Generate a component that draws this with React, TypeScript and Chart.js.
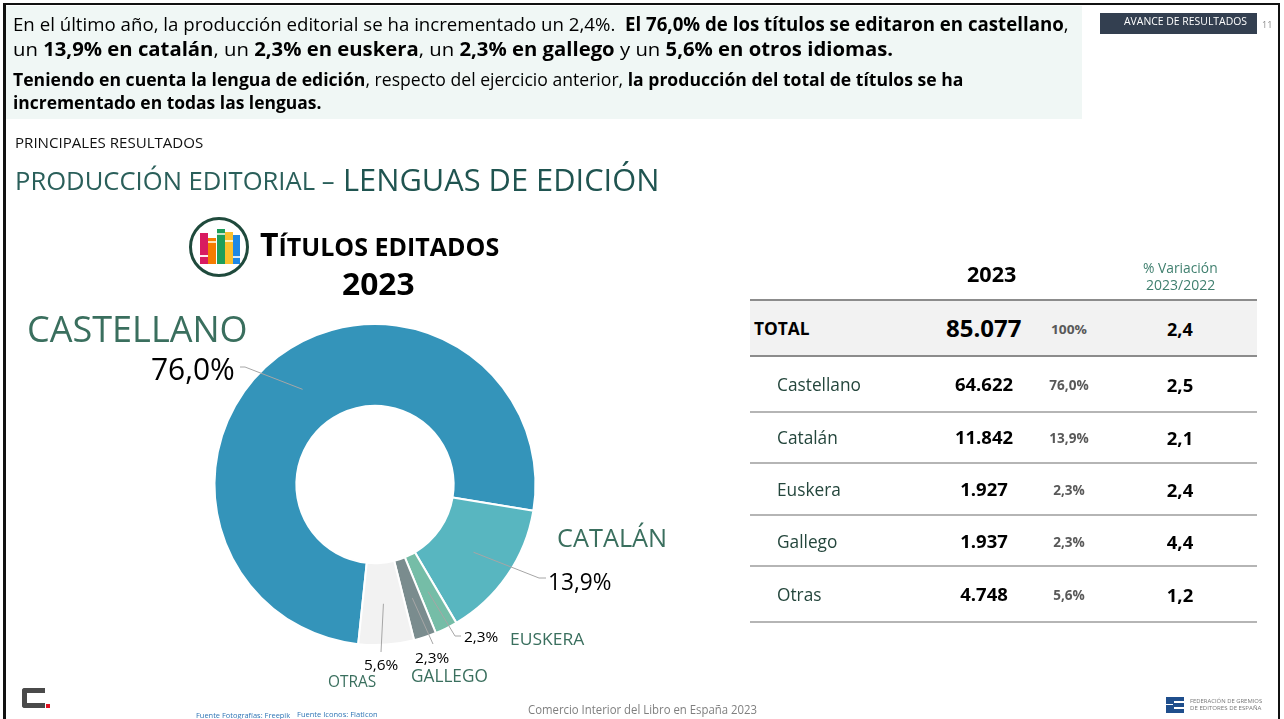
import React, { useEffect, useLayoutEffect, useRef } from "react";
import { Chart, registerables } from "chart.js";

Chart.register(...registerables);

const languages = ["Castellano", "Catalán", "Euskera", "Gallego", "Otras"];
const titles = [64622, 11842, 1927, 1937, 4748];
const shares = ["76,0%", "13,9%", "2,3%", "2,3%", "5,6%"];
const variation = ["2,5", "2,1", "2,4", "4,4", "1,2"];
const titleLabels = ["64.622", "11.842", "1.927", "1.937", "4.748"];
const sliceColors = ["#3494BA", "#58B6C0", "#75BDA7", "#7A8C8E", "#F2F2F2"];
const totalLabel = "85.077";

const FONT = '"Open Sans", "Noto Sans", sans-serif';
const GREEN = "#3A6F5E";

// leader line bend points, by slice, in page pixels
const leaders: number[][][] = [
  [[245, 367], [240, 367]],
  [[539, 578], [546, 578]],
  [[455, 636], [461, 636]],
  [[433, 644]],
  [[381, 652]],
];

const leaderPlugin = {
  id: "leaders",
  afterDatasetsDraw(chart: any) {
    const arcs = chart.getDatasetMeta(0).data;
    const ctx = chart.ctx;
    ctx.save();
    ctx.strokeStyle = "#A6A6A6";
    ctx.lineWidth = 1;
    arcs.forEach((arc: any, i: number) => {
      const p = arc.getCenterPoint();
      ctx.beginPath();
      ctx.moveTo(p.x, p.y);
      leaders[i].forEach(([x, y]) => ctx.lineTo(x, y));
      ctx.stroke();
    });
    ctx.restore();
  },
};

type TP = {
  x: number; y: number; w?: number; size: number; bold?: boolean; color?: string;
  center?: boolean; sx?: number; children: React.ReactNode;
};

function T({ x, y, w, size, bold, color = "#000", center, sx = 0.94, children }: TP) {
  const ref = useRef<HTMLDivElement>(null);
  useLayoutEffect(() => {
    const el = ref.current;
    if (el && w) {
      const k = w / el.offsetWidth;
      el.style.transform = `translateY(-50%) scaleX(${k})`;
    }
  }, [w]);
  return (
    <div
      ref={ref}
      style={{
        position: "absolute", left: x, top: y, whiteSpace: "nowrap", lineHeight: 1,
        fontFamily: FONT, fontSize: size, fontWeight: bold ? 700 : 400, color,
        transformOrigin: center ? "0 50%" : "left center",
        transform: center ? `scaleX(${sx}) translate(-50%, -50%)` : `translateY(-50%) scaleX(${sx})`,
      }}
    >
      {children}
    </div>
  );
}

function Box({ x, y, w, h, c, r }: { x: number; y: number; w: number; h: number; c: string; r?: number }) {
  return <div style={{ position: "absolute", left: x, top: y, width: w, height: h, background: c, borderRadius: r }} />;
}

const B = ({ children }: { children: React.ReactNode }) => <b>{children}</b>;

export default function App() {
  const canvasRef = useRef<HTMLCanvasElement>(null);
  useEffect(() => {
    const chart = new Chart(canvasRef.current as HTMLCanvasElement, {
      type: "doughnut",
      data: {
        labels: languages,
        datasets: [{ data: titles, backgroundColor: sliceColors, borderColor: "#fff", borderWidth: 2 }],
      },
      options: {
        responsive: false,
        animation: false,
        rotation: 186,
        cutout: "49%",
        layout: { padding: { left: 213, right: 747, top: 323, bottom: 73 } },
        plugins: { legend: { display: false }, tooltip: { enabled: false } },
      },
      plugins: [leaderPlugin],
    });
    return () => chart.destroy();
  }, []);

  const rowY = [384, 437, 489, 541, 594];
  const lineY = [300, 356, 412, 463, 515, 566, 622];

  return (
    <div style={{ position: "absolute", left: 0, top: 0, width: 1284, height: 719, overflow: "hidden", background: "#fff" }}>
      {/* frame */}
      <Box x={3} y={3} w={1277} h={2} c="#111" />
      <Box x={3} y={3} w={3} h={716} c="#111" />
      <Box x={1278} y={3} w={2} h={716} c="#111" />
      <Box x={6} y={6} w={1076} h={113} c="#F0F7F5" />
      <Box x={1100} y={13} w={157} h={21} c="#333F50" />

      <canvas ref={canvasRef} width={1284} height={719} style={{ position: "absolute", left: 0, top: 0 }} />

      <T x={13} y={24} w={1056} size={19}>En el último año, la producción editorial se ha incrementado un 2,4%.&nbsp; <B>El 76,0% de los títulos se editaron en castellano</B>,</T>
      <T x={13} y={49} w={880} size={19}>un <B>13,9% en catalán</B>, un <B>2,3% en euskera</B>, un <B>2,3% en gallego</B> y un <B>5,6% en otros idiomas.</B></T>
      <T x={13} y={80} w={950} size={17.5}><B>Teniendo en cuenta la lengua de edición</B>, respecto del ejercicio anterior, <B>la producción del total de títulos se ha</B></T>
      <T x={13} y={103} w={308} size={17.5}><B>incrementado en todas las lenguas.</B></T>

      <T x={1124} y={21} w={123} size={10} color="#fff">AVANCE DE RESULTADOS</T>
      <T x={1262} y={24} w={10} size={9} color="#8C8C8C">11</T>

      <T x={15} y={142} w={188} size={15} color="#111">PRINCIPALES RESULTADOS</T>
      <T x={15} y={180} w={320} size={26} color="#2A5F5A">PRODUCCIÓN EDITORIAL –</T>
      <T x={343} y={179} w={316} size={31} color="#1F5450">LENGUAS DE EDICIÓN</T>

      {/* icon */}
      <div style={{ position: "absolute", left: 189, top: 217, width: 54, height: 54, borderRadius: "50%", border: "3px solid #1F4A3C" }} />
      <Box x={200} y={233} w={8} h={31} c="#D81B60" />
      <Box x={208} y={238} w={8} h={26} c="#F57C00" />
      <Box x={217} y={229} w={8} h={35} c="#1E9E5A" />
      <Box x={225} y={232} w={8} h={32} c="#FBC02D" />
      <Box x={233} y={235} w={7} h={29} c="#1E88E5" />
      <Box x={200} y={255} w={8} h={2} c="#FFE9EF" />
      <Box x={208} y={241} w={8} h={2} c="#FFE0B2" />
      <Box x={217} y={233} w={8} h={2} c="#C8E6C9" />
      <Box x={225} y={240} w={8} h={2} c="#FFF3C4" />
      <Box x={233} y={256} w={7} h={2} c="#DCEBFB" />

      <T x={260} y={244} w={239} size={25} bold><span style={{ fontSize: 32 }}>T</span>ÍTULOS EDITADOS</T>
      <T x={342} y={284} w={73} size={30} bold>2023</T>

      {/* slice labels */}
      <T x={27} y={327} w={221} size={37} color={GREEN}>{languages[0].toUpperCase()}</T>
      <T x={151} y={368} w={84} size={31}>{shares[0]}</T>
      <T x={557} y={537} w={110} size={26} color={GREEN}>{"CATALÁN"}</T>
      <T x={548} y={581} w={63} size={23}>{shares[1]}</T>
      <T x={464} y={637} w={34} size={14.5}>{shares[2]}</T>
      <T x={510} y={638} w={74} size={17} color={GREEN}>{languages[2].toUpperCase()}</T>
      <T x={415} y={658} w={34} size={14.5}>{shares[3]}</T>
      <T x={411} y={675} w={77} size={19} color={GREEN}>{languages[3].toUpperCase()}</T>
      <T x={364} y={665} w={34} size={14.5}>{shares[4]}</T>
      <T x={328} y={680} w={48} size={17} color={GREEN}>{languages[4].toUpperCase()}</T>

      {/* table */}
      <Box x={750} y={300} w={507} h={56} c="#F2F2F2" />
      {lineY.map((y, i) => (
        <Box key={y} x={750} y={y - 1} w={507} h={i < 2 ? 2 : 1.5} c={i < 2 ? "#8C8C8C" : "#B5B5B5"} />
      ))}
      <T x={967} y={273} w={49} size={22} bold>2023</T>
      <T x={1143} y={268} w={75} size={14} color="#3F7F6E">% Variación</T>
      <T x={1146} y={285} w={69} size={14} color="#3F7F6E">2023/2022</T>
      <T x={754} y={328} w={56} size={17} bold>TOTAL</T>
      <T x={946} y={328} w={75} size={24} bold>{totalLabel}</T>
      <T x={1051} y={329} w={36} size={13} bold color="#595959">100%</T>
      <T x={1167} y={329} w={26} size={18} bold>2,4</T>
      {languages.map((name, i) => (
        <React.Fragment key={name}>
          <T x={777} y={rowY[i]} size={18} sx={0.96} color="#24463C">{name}</T>
          <T x={984} y={rowY[i]} size={18.5} sx={1} bold center>{titleLabels[i]}</T>
          <T x={1069} y={rowY[i] + 1} size={14} sx={0.97} bold center color="#595959">{shares[i]}</T>
          <T x={1180} y={rowY[i] + 0.5} size={18.5} sx={1} bold center>{variation[i]}</T>
        </React.Fragment>
      ))}

      {/* footer */}
      <T x={196} y={715} w={94} size={8} color="#2F75B5">Fuente Fotografías: Freepik</T>
      <T x={297} y={714} w={81} size={8} color="#2F75B5">Fuente Iconos: FlatIcon</T>
      <T x={528} y={710} w={229} size={12.5} color="#7F7F7F">Comercio Interior del Libro en España 2023</T>

      {/* logos */}
      <div style={{ position: "absolute", left: 22, top: 688, width: 18, height: 10, borderLeft: "5px solid #4A4A4A", borderTop: "5px solid #4A4A4A", borderBottom: "5px solid #4A4A4A", borderRadius: "3px 0 0 3px" }} />
      <Box x={46} y={704} w={4} h={4} c="#E01020" />
      <Box x={1166} y={697} w={18} h={16} c="#1F4E8C" />
      <Box x={1174} y={701} w={10} h={2} c="#fff" />
      <Box x={1174} y={707} w={10} h={2} c="#fff" />
      <Box x={1166} y={704} w={7} h={1} c="#fff" />
      <T x={1190} y={701} w={72} size={4.5} color="#777">FEDERACIÓN DE GREMIOS</T>
      <T x={1190} y={708} w={72} size={4.5} color="#777">DE EDITORES DE ESPAÑA</T>
    </div>
  );
}
